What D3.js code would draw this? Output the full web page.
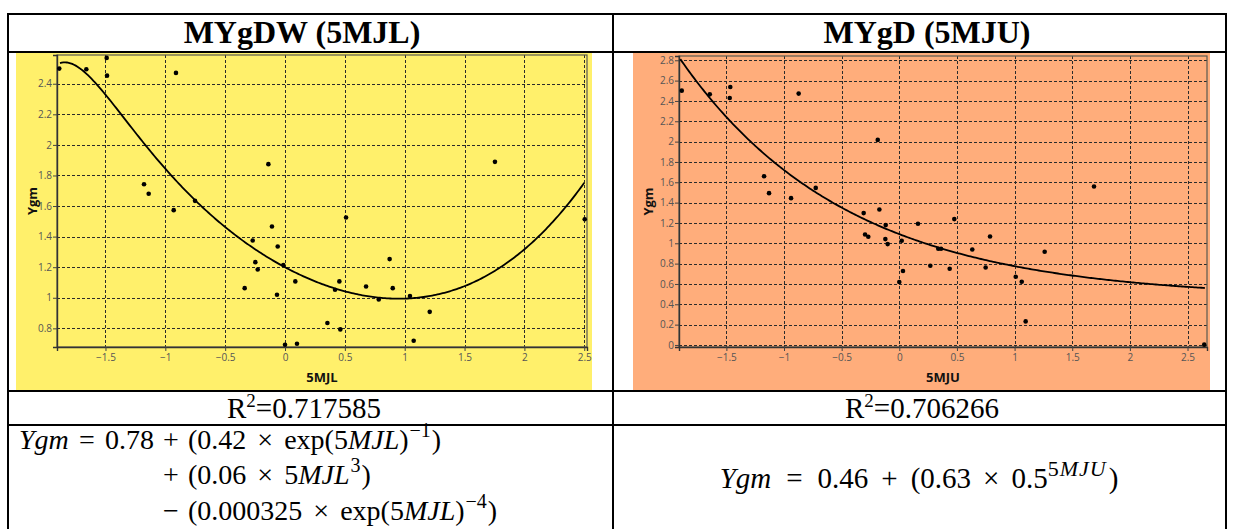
<!DOCTYPE html>
<html>
<head>
<meta charset="utf-8">
<script src="https://cdn.jsdelivr.net/npm/d3@7"></script>
<style>
  html, body { margin: 0; padding: 0; background: #fff; }
  svg { display: block; }
</style>
</head>
<body>
<svg id="chart" width="1233" height="529"></svg>
<script>
// ---- data: Ygm against 5MJL (left) and 5MJU (right) ----
const mjlX = [-1.886, -1.660, -1.490, -1.487, -0.911, -1.178, -1.139, -0.930, -0.752, -0.139,
              -0.270, -0.109, -0.061, -0.248, -0.228, -0.014, 0.086, -0.337, -0.067, 0.000,
              0.100, 0.454, 0.418, 0.677, 0.874, 0.900, 0.783, 1.044, 1.209, 0.354,
              0.462, 1.075, 0.510, 1.754, 2.504];
const mjlY = [2.499, 2.495, 2.569, 2.453, 2.471, 1.743, 1.680, 1.573, 1.634, 1.874,
              1.375, 1.466, 1.335, 1.233, 1.185, 1.214, 1.107, 1.063, 1.020, 0.693,
              0.699, 1.107, 1.052, 1.074, 1.253, 1.063, 0.989, 1.011, 0.908, 0.835,
              0.793, 0.719, 1.525, 1.889, 1.514];

const mjuX = [-1.887, -1.644, -1.466, -1.471, -0.873, -1.173, -1.130, -0.939, -0.725, -0.187,
              -0.309, -0.173, -0.297, -0.269, -0.118, -0.121, -0.101, 0.021, 0.162, 0.032,
              0.000, 0.269, 0.338, 0.362, 0.437, 0.633, 0.787, 0.749, 1.010, 1.062,
              1.096, 1.261, 2.645, 0.477, 1.689];
const mjuY = [2.501, 2.465, 2.537, 2.429, 2.472, 1.660, 1.493, 1.444, 1.545, 2.017,
              1.297, 1.332, 1.087, 1.064, 1.179, 1.041, 0.992, 1.025, 1.192, 0.727,
              0.619, 0.779, 0.946, 0.946, 0.750, 0.939, 1.067, 0.762, 0.671, 0.622,
              0.232, 0.917, 0.003, 1.238, 1.558];

// fitted models, coefficients as printed under each chart
const mjlFit = [0.78, 0.42, 0.06, 0.000325];   // a + b*exp(x)^-1 + c*x^3 - d*exp(x)^-4
const mjuFit = [0.46, 0.63, 0.5];              // a + b*c^x

const xTicks = [-1.5, -1, -0.5, 0, 0.5, 1, 1.5, 2, 2.5];
const mjlYTicks = [0.8, 1, 1.2, 1.4, 1.6, 1.8, 2, 2.2, 2.4];
const mjuYTicks = [0, 0.2, 0.4, 0.6, 0.8, 1, 1.2, 1.4, 1.6, 1.8, 2, 2.2, 2.4, 2.6, 2.8];

const headers = ["MYgDW (5MJL)", "MYgD (5MJU)"];
const r2Values = ["0.717585", "0.706266"];

const svg = d3.select("#chart");
const SERIF = "'Liberation Serif', 'Times New Roman', serif";
const SANS = "'Open Sans', 'Noto Sans', sans-serif";

// ---- scatter panel ----
function panel(opt) {
  const g = svg.append("g");
  g.append("rect").attr("x", opt.bg[0]).attr("y", opt.bg[1])
    .attr("width", opt.bg[2]).attr("height", opt.bg[3]).attr("fill", opt.fill);

  const x = d3.scaleLinear().domain(opt.xDomain).range([opt.left, opt.right]);
  const y = d3.scaleLinear().domain(opt.yDomain).range([opt.bottom, opt.top]);

  // dashed grid
  const grid = g.append("g").attr("stroke", "#2b2b2b").attr("stroke-width", 1)
    .attr("stroke-dasharray", "3,2");
  grid.selectAll("line.v").data(opt.xTicks).join("line")
    .attr("x1", d => Math.round(x(d)) + 0.5).attr("x2", d => Math.round(x(d)) + 0.5)
    .attr("y1", opt.top).attr("y2", opt.bottom);
  grid.selectAll("line.h").data(opt.yTicks).join("line")
    .attr("y1", d => Math.round(y(d)) + 0.5).attr("y2", d => Math.round(y(d)) + 0.5)
    .attr("x1", opt.left).attr("x2", opt.right);

  // frame
  g.append("rect").attr("x", opt.left).attr("y", opt.top)
    .attr("width", opt.right - opt.left).attr("height", opt.bottom - opt.top)
    .attr("fill", "none").attr("stroke", "#5a5a50").attr("stroke-width", 1.2);

  // axes
  const xAxis = d3.axisBottom(x).tickValues(opt.xTicks).tickSize(4).tickPadding(3)
    .tickFormat(d3.format("~g"));
  const yAxis = d3.axisLeft(y).tickValues(opt.yTicks).tickSize(4).tickPadding(1)
    .tickFormat(d3.format("~g"));
  const ax = g.append("g").attr("transform", `translate(0,${opt.bottom})`).call(xAxis);
  const ay = g.append("g").attr("transform", `translate(${opt.left},0)`).call(yAxis);
  [ax, ay].forEach(a => {
    a.select(".domain").attr("stroke", "#333").attr("stroke-width", 1.4);
    a.selectAll(".tick line").attr("stroke", "#444");
    a.selectAll(".tick text").attr("fill", "#555").attr("font-size", 10)
      .attr("font-family", SANS);
  });

  // fitted curve
  const xs = d3.range(opt.curveFrom, opt.curveTo + 1e-9, (opt.curveTo - opt.curveFrom) / 300);
  g.append("path").datum(xs)
    .attr("fill", "none").attr("stroke", "#000").attr("stroke-width", 1.8)
    .attr("d", d3.line().x(d => x(d)).y(d => y(opt.model(d))));

  // observations
  g.selectAll("circle.pt").data(opt.xs).join("circle")
    .attr("cx", (d, i) => x(d)).attr("cy", (d, i) => y(opt.ys[i]))
    .attr("r", 2.3).attr("fill", "#000");

  // titles
  g.append("text").attr("x", (opt.left + opt.right) / 2).attr("y", opt.bottom + 35)
    .attr("text-anchor", "middle").attr("font-family", SANS).attr("font-weight", 700)
    .attr("font-size", 13).attr("fill", "#111").text(opt.xTitle);
  g.append("text")
    .attr("transform", `translate(${opt.yTitleX},${(opt.top + opt.bottom) / 2}) rotate(-90)`)
    .attr("text-anchor", "middle").attr("dy", "0.35em").attr("font-family", SANS)
    .attr("font-weight", 700).attr("font-size", 13).attr("fill", "#111").text("Ygm");
}

panel({
  bg: [16, 53, 576, 337], fill: "#fff06b",
  left: 57, right: 587, top: 55, bottom: 347,
  xDomain: [-1.905, 2.523], yDomain: [0.678, 2.588],
  xTicks: xTicks, yTicks: mjlYTicks,
  xs: mjlX, ys: mjlY, xTitle: "5MJL", yTitleX: 32,
  curveFrom: -1.88, curveTo: 2.5,
  model: v => mjlFit[0] + mjlFit[1] * Math.pow(Math.exp(v), -1)
              + mjlFit[2] * v * v * v - mjlFit[3] * Math.pow(Math.exp(v), -4)
});

panel({
  bg: [633, 53, 577, 337], fill: "#ffad7b",
  left: 679, right: 1207, top: 56, bottom: 347,
  xDomain: [-1.911, 2.669], yDomain: [-0.02, 2.842],
  xTicks: xTicks, yTicks: mjuYTicks,
  xs: mjuX, ys: mjuY, xTitle: "5MJU", yTitleX: 648,
  curveFrom: -1.9, curveTo: 2.65,
  model: v => mjuFit[0] + mjuFit[1] * Math.pow(mjuFit[2], v)
});

// ---- table rules ----
const rules = svg.append("g").attr("stroke", "#000").attr("stroke-width", 2);
[[8, 14, 1226, 14], [8, 52, 1226, 52], [8, 391, 1226, 391], [8, 425, 1226, 425],
 [8, 13, 8, 529], [613, 13, 613, 529], [1226, 13, 1226, 529]]
  .forEach(([x1, y1, x2, y2]) => rules.append("line")
    .attr("x1", x1).attr("y1", y1).attr("x2", x2).attr("y2", y2));

// headers
[[302, headers[0]], [927, headers[1]]].forEach(([cx, t]) => {
  svg.append("text").attr("x", cx).attr("y", 43).attr("text-anchor", "middle")
    .attr("font-family", SERIF).attr("font-weight", 700).attr("font-size", 32)
    .attr("fill", "#000").text(t);
});

// R² rows
[[304, r2Values[0]], [922, r2Values[1]]].forEach(([cx, v]) => {
  const t = svg.append("text").attr("x", cx).attr("y", 418).attr("text-anchor", "middle")
    .attr("font-family", SERIF).attr("font-size", 29).attr("fill", "#000");
  t.append("tspan").text("R");
  t.append("tspan").attr("dy", -11).attr("font-size", 19).text("2");
  t.append("tspan").attr("dy", 11).text("=" + v);
});

// equations: each part may carry an explicit x, extra gap (dx), italic or superscript flag
function eq(x, y, parts, opts) {
  opts = opts || {};
  const t = svg.append("text").attr("x", x).attr("y", y)
    .attr("text-anchor", opts.anchor || "start")
    .attr("font-family", SERIF).attr("font-size", opts.size || 28).attr("fill", "#000");
  let shift = 0;
  parts.forEach(p => {
    const s = t.append("tspan").text(p.t);
    if (p.x !== undefined) s.attr("x", p.x);
    if (p.dx) s.attr("dx", p.dx);
    if (p.i) s.attr("font-style", "italic");
    const target = p.sup ? -12 : 0;
    if (target !== shift) { s.attr("dy", target - shift); shift = target; }
    if (p.sup) s.attr("font-size", opts.supSize || 20).attr("letter-spacing", opts.supSpacing || 0);
  });
}

eq(19, 449, [
  { t: "Ygm", i: 1 }, { t: "=", x: 79 }, { t: "0.78", x: 105 }, { t: "+", x: 163 },
  { t: "(0.42", x: 188 }, { t: "×", dx: 11 }, { t: "exp(5", dx: 11 }, { t: "MJL", i: 1 },
  { t: ")" }, { t: "−1", sup: 1, dx: 1 }, { t: ")", dx: 1 }
]);
eq(163, 484, [
  { t: "+" }, { t: "(0.06", x: 188 }, { t: "×", dx: 11 }, { t: "5", dx: 11 },
  { t: "MJL", i: 1 }, { t: "3", sup: 1, dx: 1 }, { t: ")", dx: 1 }
]);
eq(163, 520, [
  { t: "−" }, { t: "(0.000325", x: 188 }, { t: "×", dx: 11 }, { t: "exp(5", dx: 11 },
  { t: "MJL", i: 1 }, { t: ")" }, { t: "−4", sup: 1, dx: 1 }, { t: ")", dx: 1 }
]);
eq(919, 488, [
  { t: "Ygm", i: 1 }, { t: "=", dx: 15 }, { t: "0.46", dx: 15 }, { t: "+", dx: 13 },
  { t: "(0.63", dx: 13 }, { t: "×", dx: 12 }, { t: "0.5", dx: 12 }, { t: "5", sup: 1 },
  { t: "MJU", i: 1, sup: 1 }, { t: ")", dx: 2 }
], { anchor: "middle", size: 29, supSize: 22, supSpacing: 1 });
</script>
</body>
</html>
